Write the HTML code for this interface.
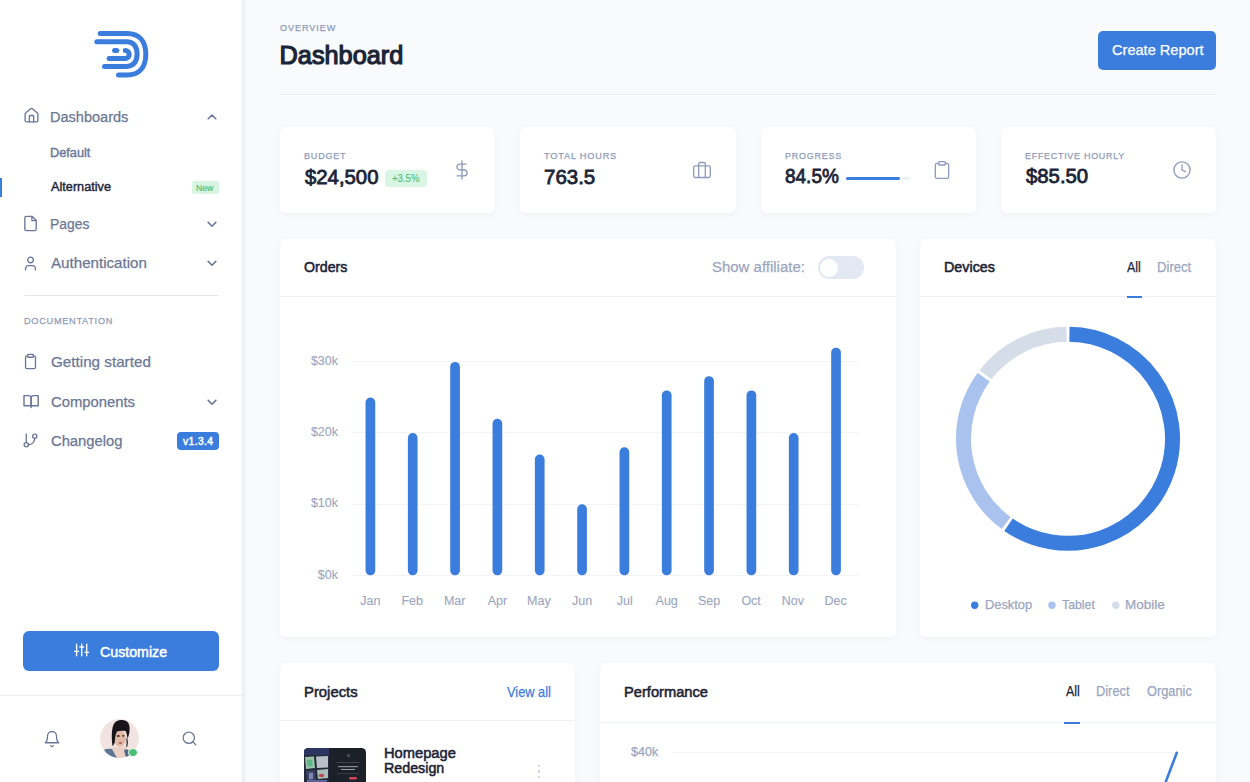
<!DOCTYPE html>
<html><head><meta charset="utf-8">
<style>
*{box-sizing:border-box}
html,body{margin:0;padding:0}
body{width:1250px;height:782px;overflow:hidden;position:relative;background:#f9fafc;font-family:"Liberation Sans",sans-serif}
.t{position:absolute;line-height:1;white-space:nowrap;transform-origin:0 0}
.a{position:absolute}
.card{position:absolute;background:#fff;border-radius:5px;box-shadow:0 0 1px rgba(20,30,60,.06),0 2px 6px rgba(20,30,60,.035)}
.hl{position:absolute;height:1px;background:#edf0f5}
svg.i{position:absolute;fill:none;stroke-linecap:round;stroke-linejoin:round}
</style></head><body>
<!-- sidebar -->
<div class="a" style="left:0;top:0;width:248px;height:782px;background:linear-gradient(90deg,#fff 0,#fff 240px,#f7f8fa 242px,#eceef2 243px,#eceef2 244px,#f3f5f8 245px,#f9fafc 247px)"></div>
<!-- logo -->
<svg class="a" style="left:88px;top:26px" width="66" height="56" viewBox="88 26 66 56" fill="none" stroke="#3b7ddd" stroke-width="5" stroke-linecap="round">
<path d="M100.2 33.5 H127 C139.03 33.5 145.8 40.99 145.8 54.30 C145.8 67.61 139.03 75.1 127 75.1 H118.5"/>
<path d="M96.8 41.8 H126.5 C133.28 41.8 137.1 46.23 137.1 54.10 C137.1 61.97 133.28 66.4 126.5 66.4 H104.5"/>
<path d="M109.1 58.4 H125.3 A3.95 3.95 0 0 0 125.3 50.5"/>
<path d="M114.6 50.5 H116.8"/>
</svg>
<!-- active indicator -->
<div class="a" style="left:0;top:178px;width:1.6px;height:19px;background:#3b7ddd"></div>
<!-- sidebar icons -->
<svg class="i" style="left:22.6px;top:107.4px" width="17" height="17" viewBox="0 0 24 24" stroke="#6b7796" stroke-width="1.9">
<path d="M15 21v-8a1 1 0 0 0-1-1h-4a1 1 0 0 0-1 1v8"/><path d="M3 10a2 2 0 0 1 .709-1.528l7-5.999a2 2 0 0 1 2.582 0l7 5.999A2 2 0 0 1 21 10v9a2 2 0 0 1-2 2H5a2 2 0 0 1-2-2z"/>
</svg>
<svg class="i" style="left:22.4px;top:214.9px" width="17" height="17" viewBox="0 0 24 24" stroke="#6b7796" stroke-width="1.9">
<path d="M14.5 2H6a2 2 0 0 0-2 2v16a2 2 0 0 0 2 2h12a2 2 0 0 0 2-2V7.5L14.5 2z"/><path d="M14 2v6h6"/>
</svg>
<svg class="i" style="left:22.4px;top:254.5px" width="17" height="17" viewBox="0 0 24 24" stroke="#6b7796" stroke-width="1.9">
<path d="M19 21v-2a4 4 0 0 0-4-4H9a4 4 0 0 0-4 4v2"/><circle cx="12" cy="7" r="4"/>
</svg>
<svg class="i" style="left:22.4px;top:352.7px" width="17" height="17" viewBox="0 0 24 24" stroke="#6b7796" stroke-width="1.9">
<rect x="8" y="2" width="8" height="4" rx="1"/><path d="M16 4h1a2 2 0 0 1 2 2v14a2 2 0 0 1-2 2H7a2 2 0 0 1-2-2V6a2 2 0 0 1 2-2h1"/>
</svg>
<svg class="i" style="left:20px;top:390px" width="22" height="22" viewBox="20 390 22 22" stroke="#6b7796" stroke-width="1.45">
<path d="M24 395.6 H28.6 A2.5 2.5 0 0 1 31.1 398.1 V405.8 H24Z"/><path d="M38.2 395.6 H33.6 A2.5 2.5 0 0 0 31.1 398.1 V405.8 H38.2Z"/><path d="M31.1 405.8 V407.4"/>
</svg>
<svg class="i" style="left:22.4px;top:432px" width="17" height="17" viewBox="0 0 24 24" stroke="#6b7796" stroke-width="1.9">
<line x1="6" y1="3" x2="6" y2="15"/><circle cx="18" cy="6" r="3"/><circle cx="6" cy="18" r="3"/><path d="M18 9a9 9 0 0 1-9 9"/>
</svg>
<!-- chevrons -->
<svg class="i" style="left:206px;top:111px" width="12" height="12" viewBox="0 0 12 12" stroke="#6b7796" stroke-width="1.6"><path d="M2.2 7.8 6 4 9.8 7.8"/></svg>
<svg class="i" style="left:206px;top:218px" width="12" height="12" viewBox="0 0 12 12" stroke="#6b7796" stroke-width="1.6"><path d="M2.2 4.4 6 8.2 9.8 4.4"/></svg>
<svg class="i" style="left:206px;top:257px" width="12" height="12" viewBox="0 0 12 12" stroke="#6b7796" stroke-width="1.6"><path d="M2.2 4.4 6 8.2 9.8 4.4"/></svg>
<svg class="i" style="left:206px;top:396px" width="12" height="12" viewBox="0 0 12 12" stroke="#6b7796" stroke-width="1.6"><path d="M2.2 4.4 6 8.2 9.8 4.4"/></svg>
<!-- badges -->
<div class="a" style="left:191.5px;top:181px;width:27px;height:13px;background:#d8f4e3;border-radius:3px"></div>
<div class="a" style="left:177px;top:432px;width:42px;height:18px;background:#3b7ddd;border-radius:4px"></div>
<!-- divider -->
<div class="hl" style="left:23.5px;top:295px;width:195.5px;background:#e5e8f0"></div>
<!-- customize -->
<div class="a" style="left:23px;top:631px;width:196px;height:40px;background:#3b7ddd;border-radius:6px"></div>
<svg class="i" style="left:70px;top:640px" width="22" height="20" viewBox="70 640 22 20" stroke="#fff" stroke-width="1.35">
<path d="M76.6 644.2 V655.8 M81.7 644.2 V655.8 M86.7 644.2 V655.8 M74.7 651.4 H78.5 M79.8 647 H83.6 M84.8 652.3 H88.6"/>
</svg>
<div class="hl" style="left:0;top:695px;width:243px;background:#eceff5"></div>
<!-- bottom icons -->
<svg class="i" style="left:43.1px;top:729.5px" width="18" height="18" viewBox="0 0 24 24" stroke="#6b7796" stroke-width="1.7">
<path d="M18 8A6 6 0 0 0 6 8c0 7-3 9-3 9h18s-3-2-3-9"/><path d="M13.73 21a2 2 0 0 1-3.46 0"/>
</svg>
<svg class="i" style="left:180.5px;top:730.4px" width="17" height="17" viewBox="0 0 24 24" stroke="#6b7796" stroke-width="1.8">
<circle cx="11" cy="11" r="8"/><line x1="21" y1="21" x2="16.65" y2="16.65"/>
</svg>
<!-- avatar -->
<svg class="a" style="left:100.3px;top:718.9px" width="39" height="39" viewBox="0 0 39 39">
<defs><clipPath id="av"><circle cx="19.5" cy="19.5" r="19.4"/></clipPath></defs>
<g clip-path="url(#av)">
<rect width="39" height="39" fill="#f1e3e0"/>
<path d="M13 28 L27 28 L30 39 L10 39Z" fill="#ecd2c6"/>
<path d="M0 34 C3 30 8 29 12 30 L17 39 L0 39Z" fill="#5c7796"/>
<path d="M24 31 C27 30 30 31 33 33 L35 39 L26 39Z" fill="#4f6c8d"/>
<ellipse cx="20" cy="19.5" rx="6" ry="8.3" fill="#dfbaa6"/>
<path d="M12.5 27 C11.5 20 11.5 12 13 7 C14.5 2.5 18 1 21.5 1 C26 1 29 3 29.5 7.5 C30 12 29 16 27.5 20 C27 16 26.5 13.5 25.5 12 C22 11.5 19 11.8 17 12.5 C15.5 15 15 19 14.8 23 C14.3 25 13.5 26.5 12.5 27Z" fill="#16161a"/>
<path d="M27 19 C28.2 22 28.2 25 27 28 L26 27.5 C26.8 25 26.8 22.5 26.2 20Z" fill="#222226"/>
<ellipse cx="18.3" cy="17" rx="1.6" ry="1" fill="#4a3430"/>
<ellipse cx="23.2" cy="16.8" rx="1.4" ry="0.9" fill="#5a4038"/>
<ellipse cx="20.5" cy="24" rx="1.9" ry="0.9" fill="#b8625c"/>
</g>
</svg>
<div class="a" style="left:128.2px;top:747.6px;width:9.6px;height:9.6px;border-radius:50%;background:#4bbf73;border:1.2px solid #fff"></div>

<!-- header -->
<div class="hl" style="left:280px;top:94px;width:936px;background:#edf0f3"></div>
<div class="a" style="left:1098px;top:31px;width:118px;height:39px;background:#3b7ddd;border-radius:5px"></div>

<!-- stat cards -->
<div class="card" style="left:280px;top:127px;width:215.25px;height:86px"></div>
<div class="card" style="left:520.25px;top:127px;width:215.25px;height:86px"></div>
<div class="card" style="left:760.5px;top:127px;width:215.25px;height:86px"></div>
<div class="card" style="left:1000.75px;top:127px;width:215.25px;height:86px"></div>
<div class="a" style="left:385.3px;top:169.8px;width:41.5px;height:17px;background:#d9f5e4;border-radius:4px"></div>
<svg class="i" style="left:452px;top:160px" width="20" height="20" viewBox="0 0 24 24" stroke="#8e9bba" stroke-width="1.6">
<line x1="12" y1="1" x2="12" y2="23"/><path d="M17 5H9.5a3.5 3.5 0 0 0 0 7h5a3.5 3.5 0 0 1 0 7H6"/>
</svg>
<svg class="i" style="left:692px;top:159.6px" width="20" height="20" viewBox="0 0 24 24" stroke="#8e9bba" stroke-width="1.6">
<rect x="2" y="7" width="20" height="14" rx="2" ry="2"/><path d="M16 21V5a2 2 0 0 0-2-2h-4a2 2 0 0 0-2 2v16"/>
</svg>
<div class="a" style="left:846px;top:176.5px;width:64px;height:3.5px;background:#eef1f6;border-radius:2px"></div>
<div class="a" style="left:846px;top:176.5px;width:54px;height:3.5px;background:#3b7ddd;border-radius:2px"></div>
<svg class="i" style="left:932.2px;top:159.9px" width="20" height="20" viewBox="0 0 24 24" stroke="#8e9bba" stroke-width="1.6">
<path d="M16 4h2a2 2 0 0 1 2 2v14a2 2 0 0 1-2 2H6a2 2 0 0 1-2-2V6a2 2 0 0 1 2-2h2"/><rect x="8" y="2" width="8" height="4" rx="1" ry="1"/>
</svg>
<svg class="i" style="left:1172.2px;top:159.9px" width="20" height="20" viewBox="0 0 24 24" stroke="#8e9bba" stroke-width="1.6">
<circle cx="12" cy="12" r="9.7"/><polyline points="12 6 12 12 16 14"/>
</svg>

<!-- orders card -->
<div class="card" style="left:280px;top:239px;width:615.8px;height:398px"></div>
<div class="hl" style="left:280px;top:296px;width:615.8px"></div>
<div class="a" style="left:818px;top:256.3px;width:46px;height:22.5px;background:#e3e9f3;border-radius:12px"></div>
<div class="a" style="left:820px;top:258.5px;width:18px;height:18px;background:#fff;border-radius:50%"></div>
<svg class="a" style="left:280px;top:239px" width="616" height="398" viewBox="280 239 616 398">
<g stroke="#f1f3f7" stroke-width="1">
<line x1="352" y1="361.5" x2="859" y2="361.5"/><line x1="352" y1="432.5" x2="859" y2="432.5"/><line x1="352" y1="504.5" x2="859" y2="504.5"/><line x1="352" y1="575.5" x2="859" y2="575.5"/>
</g>
<g fill="#3b7ddd" id="bars"></g>
<rect x="365.55" y="397.50" width="9.7" height="177.80" rx="4.85" fill="#3b7ddd"/>
<rect x="407.88" y="433.10" width="9.7" height="142.20" rx="4.85" fill="#3b7ddd"/>
<rect x="450.21" y="361.90" width="9.7" height="213.40" rx="4.85" fill="#3b7ddd"/>
<rect x="492.54" y="418.86" width="9.7" height="156.44" rx="4.85" fill="#3b7ddd"/>
<rect x="534.87" y="454.46" width="9.7" height="120.84" rx="4.85" fill="#3b7ddd"/>
<rect x="577.20" y="504.30" width="9.7" height="71.00" rx="4.85" fill="#3b7ddd"/>
<rect x="619.53" y="447.34" width="9.7" height="127.96" rx="4.85" fill="#3b7ddd"/>
<rect x="661.86" y="390.38" width="9.7" height="184.92" rx="4.85" fill="#3b7ddd"/>
<rect x="704.19" y="376.14" width="9.7" height="199.16" rx="4.85" fill="#3b7ddd"/>
<rect x="746.52" y="390.38" width="9.7" height="184.92" rx="4.85" fill="#3b7ddd"/>
<rect x="788.85" y="433.10" width="9.7" height="142.20" rx="4.85" fill="#3b7ddd"/>
<rect x="831.18" y="347.66" width="9.7" height="227.64" rx="4.85" fill="#3b7ddd"/>
</svg>

<!-- devices card -->
<div class="card" style="left:920.3px;top:239px;width:295.7px;height:398px"></div>
<div class="hl" style="left:920.3px;top:296px;width:295.7px"></div>
<div class="a" style="left:1126.7px;top:296px;width:15px;height:2px;background:#3b7ddd"></div>
<svg class="a" style="left:920px;top:239px" width="296" height="398" viewBox="920 239 296 398">
<path d="M1069.46 334.31 A104.5 104.5 0 1 1 1008.51 524.71" stroke="#3b7ddd" stroke-width="15" fill="none"/><path d="M1006.13 523.02 A104.5 104.5 0 0 1 983.67 377.08" stroke="#a9c2ee" stroke-width="15" fill="none"/><path d="M985.43 374.75 A104.5 104.5 0 0 1 1066.54 334.31" stroke="#d5dde9" stroke-width="15" fill="none"/>
<circle cx="974.7" cy="605.2" r="3.7" fill="#3b7ddd"/>
<circle cx="1051.9" cy="605.2" r="3.7" fill="#a9c2ee"/>
<circle cx="1115.8" cy="605.2" r="3.7" fill="#d5dde9"/>
</svg>

<!-- projects card -->
<div class="card" style="left:280px;top:663px;width:295px;height:140px"></div>
<div class="hl" style="left:280px;top:720px;width:295px"></div>
<svg class="a" style="left:304px;top:748px" width="62" height="34" viewBox="0 0 62 34">
<defs><clipPath id="th"><rect x="0" y="0" width="62" height="60" rx="4.5"/></clipPath></defs>
<g clip-path="url(#th)">
<rect width="62" height="34" fill="#1c2029"/>
<rect x="0" y="0" width="25" height="34" fill="#252b3a"/>
<rect x="0" y="0" width="25" height="7" fill="#2a3560"/>
<path d="M1 9 L10 8.5 L11 20 L2 21Z" fill="#9cc2aa"/>
<path d="M3 12 L8 11.5 L8.5 18 L3.5 18.5Z" fill="#59b887"/>
<path d="M12 8.5 L24 8 L24 19.5 L13 20Z" fill="#b9bfc8"/>
<path d="M2 23 L11 22 L12 33 L3 34Z" fill="#3a4268"/>
<path d="M5 25 L9 24.5 L9 31 L5 31.5Z" fill="#7c87ab"/>
<path d="M13 22 L24 21 L24 30 L14 31Z" fill="#a8bdb6"/>
<ellipse cx="17.5" cy="27.5" rx="2.8" ry="1.8" fill="#b8485a"/>
<rect x="3" y="32" width="20" height="2" fill="#5a669a"/>
<rect x="43" y="6" width="3" height="3" rx="1" fill="#4a4e5c"/>
<rect x="32" y="14" width="24" height="1" fill="#3a3f4a"/>
<rect x="34" y="18" width="20" height="1.2" fill="#8a8e98"/>
<rect x="37" y="21" width="14" height="1" fill="#9a9ea6"/>
<rect x="33" y="25" width="22" height="1" fill="#343944"/>
<rect x="45" y="29" width="8" height="2.5" rx="1.2" fill="#d0455a"/>
</g>
</svg>
<div class="a" style="left:537.5px;top:765px;width:2.4px;height:2.4px;border-radius:50%;background:#c5ccd9"></div>
<div class="a" style="left:537.5px;top:770.3px;width:2.4px;height:2.4px;border-radius:50%;background:#c5ccd9"></div>
<div class="a" style="left:537.5px;top:775.6px;width:2.4px;height:2.4px;border-radius:50%;background:#c5ccd9"></div>

<!-- performance card -->
<div class="card" style="left:600px;top:663px;width:616px;height:140px"></div>
<div class="hl" style="left:600px;top:721.6px;width:616px"></div>
<div class="a" style="left:1064.3px;top:721.6px;width:16px;height:2px;background:#3b7ddd"></div>
<div class="hl" style="left:672px;top:752px;width:504px;background:#f1f3f7"></div>
<svg class="a" style="left:1150px;top:745px" width="40" height="40" viewBox="1150 745 40 40">
<path d="M1165.3 783 L1176.8 752.8" stroke="#3b7ddd" stroke-width="2.6" fill="none" stroke-linecap="round"/>
</svg>

<span class="t" style="left:49.92px;top:109.52px;font-size:14.39px;font-weight:400;color:#6b7796;transform:scaleX(1.011);-webkit-text-stroke:0.25px #6b7796">Dashboards</span>
<span class="t" style="left:49.99px;top:147.39px;font-size:12.65px;font-weight:400;color:#6b7796;transform:scaleX(1.009);-webkit-text-stroke:0.4px #6b7796">Default</span>
<span class="t" style="left:51.00px;top:181.39px;font-size:12.65px;font-weight:400;color:#1c2437;transform:scaleX(1.005);-webkit-text-stroke:0.4px #1c2437">Alternative</span>
<span class="t" style="left:196.39px;top:182.78px;font-size:9.59px;font-weight:400;color:#4cc27a;transform:scaleX(0.905);-webkit-text-stroke:0.2px #4cc27a">New</span>
<span class="t" style="left:50.16px;top:216.90px;font-size:14.53px;font-weight:400;color:#6b7796;transform:scaleX(0.956);-webkit-text-stroke:0.25px #6b7796">Pages</span>
<span class="t" style="left:50.73px;top:255.85px;font-size:14.83px;font-weight:400;color:#6b7796;transform:scaleX(1.021);-webkit-text-stroke:0.25px #6b7796">Authentication</span>
<span class="t" style="left:23.72px;top:316.28px;font-size:9.59px;font-weight:400;color:#8e9bba;letter-spacing:0.8px;transform:scaleX(0.952);-webkit-text-stroke:0.25px #8e9bba">DOCUMENTATION</span>
<span class="t" style="left:50.73px;top:354.83px;font-size:14.97px;font-weight:400;color:#6b7796;transform:scaleX(1.017);-webkit-text-stroke:0.25px #6b7796">Getting started</span>
<span class="t" style="left:50.73px;top:395.42px;font-size:14.39px;font-weight:400;color:#6b7796;transform:scaleX(1.030);-webkit-text-stroke:0.25px #6b7796">Components</span>
<span class="t" style="left:50.73px;top:434.42px;font-size:14.39px;font-weight:400;color:#6b7796;transform:scaleX(1.027);-webkit-text-stroke:0.25px #6b7796">Changelog</span>
<span class="t" style="left:183.43px;top:435.55px;font-size:11.05px;font-weight:400;color:#ffffff;letter-spacing:0.4px;transform:scaleX(0.937);-webkit-text-stroke:0.5px #ffffff">v1.3.4</span>
<span class="t" style="left:99.74px;top:644.55px;font-size:14.83px;font-weight:400;color:#ffffff;transform:scaleX(0.957);-webkit-text-stroke:0.5px #ffffff">Customize</span>
<span class="t" style="left:279.92px;top:23.48px;font-size:9.59px;font-weight:400;color:#8e9bba;letter-spacing:1.0px;transform:scaleX(0.948);-webkit-text-stroke:0.25px #8e9bba">OVERVIEW</span>
<span class="t" style="left:279.60px;top:42.59px;font-size:25.29px;font-weight:400;color:#1c2437;-webkit-text-stroke:1.2px #1c2437">Dashboard</span>
<span class="t" style="left:1111.82px;top:42.87px;font-size:14.68px;font-weight:400;color:#ffffff;transform:scaleX(0.994);-webkit-text-stroke:0.25px #ffffff">Create Report</span>
<span class="t" style="left:304.32px;top:150.88px;font-size:9.59px;font-weight:400;color:#8e9bba;letter-spacing:0.8px;transform:scaleX(0.948);-webkit-text-stroke:0.25px #8e9bba">BUDGET</span>
<span class="t" style="left:305.11px;top:167.66px;font-size:19.77px;font-weight:400;color:#1c2437;transform:scaleX(1.028);-webkit-text-stroke:0.8px #1c2437">$24,500</span>
<span class="t" style="left:392.05px;top:172.62px;font-size:10.61px;font-weight:400;color:#47c07a;transform:scaleX(0.902);-webkit-text-stroke:0.1px #47c07a">+3.5%</span>
<span class="t" style="left:544.32px;top:150.88px;font-size:9.59px;font-weight:400;color:#8e9bba;letter-spacing:0.8px;transform:scaleX(0.965);-webkit-text-stroke:0.25px #8e9bba">TOTAL HOURS</span>
<span class="t" style="left:543.58px;top:167.66px;font-size:19.77px;font-weight:400;color:#1c2437;transform:scaleX(1.035);-webkit-text-stroke:0.8px #1c2437">763.5</span>
<span class="t" style="left:784.82px;top:150.58px;font-size:9.59px;font-weight:400;color:#8e9bba;letter-spacing:0.8px;transform:scaleX(0.937);-webkit-text-stroke:0.25px #8e9bba">PROGRESS</span>
<span class="t" style="left:785.08px;top:167.36px;font-size:19.77px;font-weight:400;color:#1c2437;transform:scaleX(0.960);-webkit-text-stroke:0.8px #1c2437">84.5%</span>
<span class="t" style="left:1024.82px;top:150.58px;font-size:9.59px;font-weight:400;color:#8e9bba;letter-spacing:0.8px;transform:scaleX(0.931);-webkit-text-stroke:0.25px #8e9bba">EFFECTIVE HOURLY</span>
<span class="t" style="left:1025.61px;top:167.36px;font-size:19.77px;font-weight:400;color:#1c2437;transform:scaleX(1.028);-webkit-text-stroke:0.8px #1c2437">$85.50</span>
<span class="t" style="left:304.26px;top:259.40px;font-size:15.12px;font-weight:400;color:#1c2437;transform:scaleX(0.941);-webkit-text-stroke:0.55px #1c2437">Orders</span>
<span class="t" style="left:711.93px;top:259.55px;font-size:14.83px;font-weight:400;color:#9aa6c0;transform:scaleX(1.009);-webkit-text-stroke:0.25px #9aa6c0">Show affiliate:</span>
<span class="t" style="left:310.89px;top:355.32px;font-size:12.5px;font-weight:400;color:#9aa6c0;-webkit-text-stroke:0.1px #9aa6c0">$30k</span>
<span class="t" style="left:310.89px;top:426.32px;font-size:12.5px;font-weight:400;color:#9aa6c0;-webkit-text-stroke:0.1px #9aa6c0">$20k</span>
<span class="t" style="left:310.89px;top:497.12px;font-size:12.5px;font-weight:400;color:#9aa6c0;-webkit-text-stroke:0.1px #9aa6c0">$10k</span>
<span class="t" style="left:317.85px;top:568.52px;font-size:12.5px;font-weight:400;color:#9aa6c0;-webkit-text-stroke:0.1px #9aa6c0">$0k</span>
<span class="t" style="left:360.30px;top:594.62px;font-size:12.5px;font-weight:400;color:#9aa6c0;-webkit-text-stroke:0.1px #9aa6c0">Jan</span>
<span class="t" style="left:401.44px;top:594.62px;font-size:12.5px;font-weight:400;color:#9aa6c0;-webkit-text-stroke:0.1px #9aa6c0">Feb</span>
<span class="t" style="left:443.88px;top:594.62px;font-size:12.5px;font-weight:400;color:#9aa6c0;-webkit-text-stroke:0.1px #9aa6c0">Mar</span>
<span class="t" style="left:487.75px;top:594.62px;font-size:12.5px;font-weight:400;color:#9aa6c0;-webkit-text-stroke:0.1px #9aa6c0">Apr</span>
<span class="t" style="left:527.04px;top:594.62px;font-size:12.5px;font-weight:400;color:#9aa6c0;-webkit-text-stroke:0.1px #9aa6c0">May</span>
<span class="t" style="left:571.95px;top:594.62px;font-size:12.5px;font-weight:400;color:#9aa6c0;-webkit-text-stroke:0.1px #9aa6c0">Jun</span>
<span class="t" style="left:616.78px;top:594.62px;font-size:12.5px;font-weight:400;color:#9aa6c0;-webkit-text-stroke:0.1px #9aa6c0">Jul</span>
<span class="t" style="left:655.57px;top:594.62px;font-size:12.5px;font-weight:400;color:#9aa6c0;-webkit-text-stroke:0.1px #9aa6c0">Aug</span>
<span class="t" style="left:697.90px;top:594.62px;font-size:12.5px;font-weight:400;color:#9aa6c0;-webkit-text-stroke:0.1px #9aa6c0">Sep</span>
<span class="t" style="left:741.38px;top:594.62px;font-size:12.5px;font-weight:400;color:#9aa6c0;-webkit-text-stroke:0.1px #9aa6c0">Oct</span>
<span class="t" style="left:781.71px;top:594.62px;font-size:12.5px;font-weight:400;color:#9aa6c0;-webkit-text-stroke:0.1px #9aa6c0">Nov</span>
<span class="t" style="left:824.54px;top:594.62px;font-size:12.5px;font-weight:400;color:#9aa6c0;-webkit-text-stroke:0.1px #9aa6c0">Dec</span>
<span class="t" style="left:944.49px;top:260.00px;font-size:14.53px;font-weight:400;color:#1c2437;transform:scaleX(0.986);-webkit-text-stroke:0.55px #1c2437">Devices</span>
<span class="t" style="left:1127.21px;top:260.05px;font-size:14.24px;font-weight:400;color:#1c2437;transform:scaleX(0.874);-webkit-text-stroke:0.25px #1c2437">All</span>
<span class="t" style="left:1157.19px;top:260.05px;font-size:14.24px;font-weight:400;color:#9aa6c0;transform:scaleX(0.921);-webkit-text-stroke:0.25px #9aa6c0">Direct</span>
<span class="t" style="left:984.62px;top:598.97px;font-size:12.79px;font-weight:400;color:#9aa6c0;transform:scaleX(1.006);-webkit-text-stroke:0.25px #9aa6c0">Desktop</span>
<span class="t" style="left:1062.12px;top:598.97px;font-size:12.79px;font-weight:400;color:#9aa6c0;transform:scaleX(0.963);-webkit-text-stroke:0.25px #9aa6c0">Tablet</span>
<span class="t" style="left:1125.38px;top:598.97px;font-size:12.79px;font-weight:400;color:#9aa6c0;transform:scaleX(1.052);-webkit-text-stroke:0.25px #9aa6c0">Mobile</span>
<span class="t" style="left:303.66px;top:685.10px;font-size:14.53px;font-weight:400;color:#1c2437;transform:scaleX(1.023);-webkit-text-stroke:0.55px #1c2437">Projects</span>
<span class="t" style="left:507.11px;top:685.35px;font-size:14.24px;font-weight:400;color:#3b7ddd;transform:scaleX(0.900);-webkit-text-stroke:0.25px #3b7ddd">View all</span>
<span class="t" style="left:383.98px;top:745.65px;font-size:14.83px;font-weight:400;color:#1c2437;transform:scaleX(0.991);-webkit-text-stroke:0.55px #1c2437">Homepage</span>
<span class="t" style="left:384.00px;top:761.15px;font-size:14.83px;font-weight:400;color:#1c2437;transform:scaleX(0.962);-webkit-text-stroke:0.55px #1c2437">Redesign</span>
<span class="t" style="left:623.67px;top:685.10px;font-size:14.53px;font-weight:400;color:#1c2437;transform:scaleX(1.011);-webkit-text-stroke:0.55px #1c2437">Performance</span>
<span class="t" style="left:1065.61px;top:685.29px;font-size:13.95px;font-weight:400;color:#1c2437;transform:scaleX(0.889);-webkit-text-stroke:0.25px #1c2437">All</span>
<span class="t" style="left:1095.80px;top:685.29px;font-size:13.95px;font-weight:400;color:#9aa6c0;transform:scaleX(0.920);-webkit-text-stroke:0.25px #9aa6c0">Direct</span>
<span class="t" style="left:1146.81px;top:685.29px;font-size:13.95px;font-weight:400;color:#9aa6c0;transform:scaleX(0.919);-webkit-text-stroke:0.25px #9aa6c0">Organic</span>
<span class="t" style="left:630.53px;top:745.72px;font-size:12.5px;font-weight:400;color:#9aa6c0;transform:scaleX(1.007);-webkit-text-stroke:0.25px #9aa6c0">$40k</span>
</body></html>
